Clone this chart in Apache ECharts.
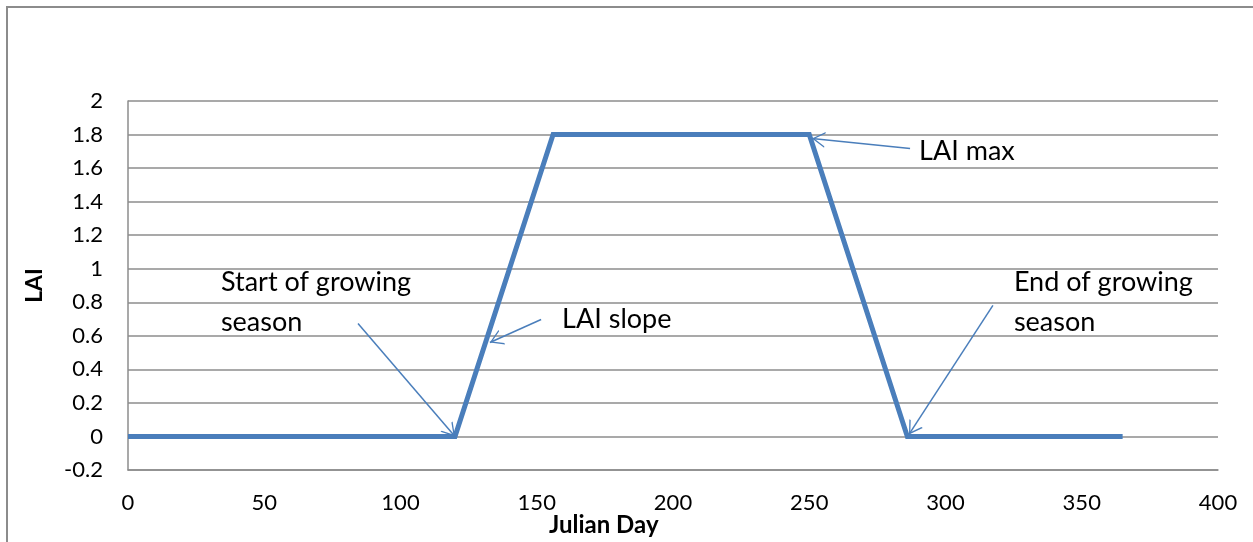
<!DOCTYPE html>
<html>
<head>
<meta charset="utf-8">
<title>LAI seasonal curve</title>
<script src="https://cdn.jsdelivr.net/npm/echarts@6/dist/echarts.min.js"></script>
<style>
  html, body { margin: 0; padding: 0; background: #ffffff; }
  #chart { width: 1253px; height: 542px; }
</style>
</head>
<body>
<div id="chart"></div>
<script>
// Leaf area index over the year (Julian day vs LAI)
const julianDays = [0, 120, 156, 250, 286, 365];
const laiValues  = [0, 0, 1.8, 1.8, 0, 0];

// Axis ranges
const xRange = [0, 400, 50];     // min, max, step
const yRange = [-0.2, 2, 0.2];   // min, max, step

// Callouts: text, anchor of the text, arrow tail and arrow head (data units)
const noteTexts  = ['Start of growing\nseason', 'LAI slope', 'LAI max', 'End of growing\nseason'];
const noteAnchor = [[34.1, 0.80], [159.3, 0.70], [290.3, 1.70], [325.1, 0.80]];
const arrowTail  = [[84.4, 0.674], [151.6, 0.697], [287.0, 1.717], [317.4, 0.781]];
const arrowHead  = [[120, 0.0], [132.8, 0.56], [251.0, 1.776], [286.6, 0.012]];

const BLUE = '#4a7ebb';
const GRID = '#8c8c8c';
const FONT = 'Lato';

// Open (chevron) arrow head pointing up; ECharts rotates it along the line
const chevron = 'path://M0,10 L5,0 L10,10 L9,10 L5,1.9 L1,10 Z';

const chart = echarts.init(document.getElementById('chart'), null, { renderer: 'canvas' });

const option = {
  animation: false,
  backgroundColor: '#ffffff',
  grid: { left: 128, top: 101, right: 35, bottom: 72, containLabel: false },
  xAxis: {
    type: 'value',
    min: xRange[0], max: xRange[1], interval: xRange[2],
    axisLine: { show: true, onZero: false, lineStyle: { color: GRID, width: 1.5 } },
    axisTick: { show: false },
    splitLine: { show: false },
    axisLabel: { color: '#000', fontFamily: FONT, fontSize: 22, margin: 22 }
  },
  yAxis: {
    type: 'value',
    min: yRange[0], max: yRange[1], interval: yRange[2],
    name: 'LAI',
    nameLocation: 'middle',
    nameGap: 82,
    nameTextStyle: { color: '#000', fontFamily: FONT, fontSize: 23, fontWeight: 'bold' },
    axisLine: { show: true, lineStyle: { color: GRID, width: 1.5 } },
    axisTick: { show: false },
    splitLine: { show: true, lineStyle: { color: GRID, width: 1.5 } },
    axisLabel: {
      color: '#000', fontFamily: FONT, fontSize: 22, margin: 25,
      formatter: v => String(Math.round(v * 10) / 10)
    }
  },
  graphic: [
    {
      type: 'rect',
      silent: true,
      shape: { x: 7, y: 7, width: 1400, height: 800 },
      style: { fill: 'none', stroke: GRID, lineWidth: 2 }
    },
    {
      type: 'text',
      left: 549, top: 513,
      style: { text: 'Julian Day', fill: '#000', font: 'bold 24px Lato' }
    }
  ],
  series: [
    {
      type: 'line',
      data: julianDays.map((d, i) => [d, laiValues[i]]),
      showSymbol: false,
      symbol: 'none',
      lineStyle: { color: BLUE, width: 5, join: 'miter' },
      silent: true,
      markLine: {
        silent: true,
        symbol: ['none', chevron],
        symbolSize: [16, 13],
        symbolOffset: [[0, 0], [0, 6.5]],
        label: { show: false },
        lineStyle: { color: BLUE, width: 1.5, type: 'solid' },
        data: arrowTail.map((t, i) => [{ coord: t }, { coord: arrowHead[i] }])
      },
      markPoint: {
        silent: true,
        symbol: 'circle',
        symbolSize: 0,
        itemStyle: { color: 'transparent' },
        label: {
          show: true,
          position: 'right',
          distance: 0,
          formatter: '{b}',
          color: '#000',
          fontFamily: FONT,
          fontSize: 27,
          lineHeight: 40
        },
        data: noteTexts.map((t, i) => ({ name: t, coord: noteAnchor[i] }))
      }
    }
  ]
};

chart.setOption(option);
</script>
</body>
</html>
